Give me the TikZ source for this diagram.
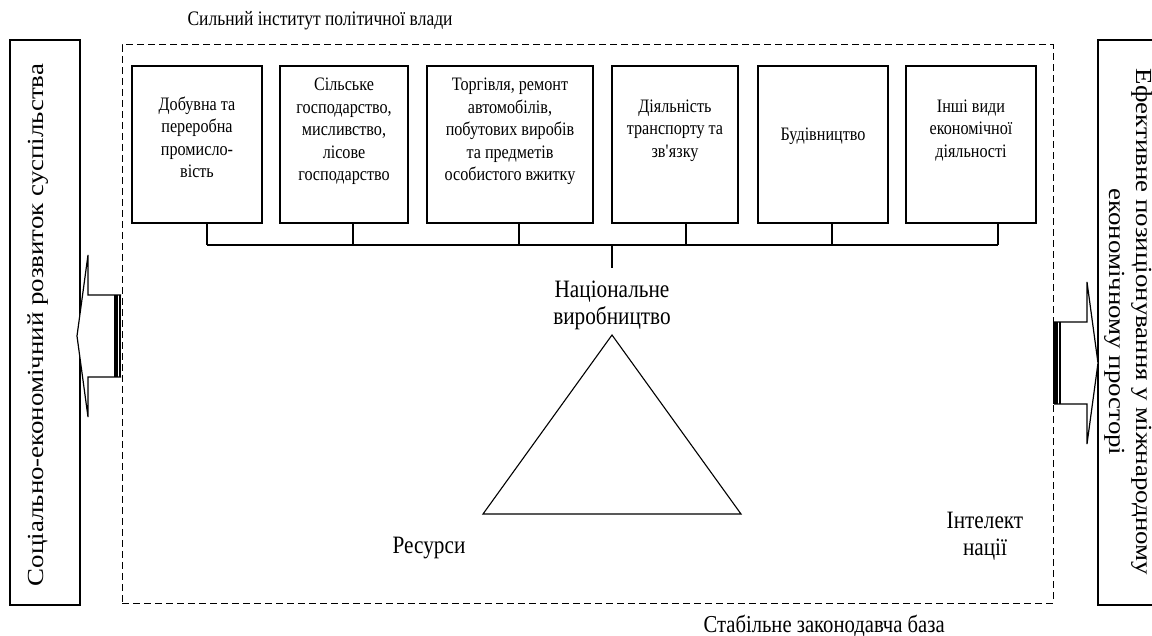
\documentclass[tikz,border=0pt]{standalone}
\usepackage{fontspec}
\setmainfont{Liberation Serif}[FakeStretch=0.85]
\newfontfamily\rotfont{Liberation Serif}[FakeStretch=1.17]
\usetikzlibrary{calc}
\begin{document}
\begin{tikzpicture}[x=1pt,y=-1pt,line width=1.1pt,
  sbox/.style={draw,line width=1.2pt,minimum width=#1,minimum height=157pt,inner sep=0pt},
  stext/.style={align=center,inner sep=0pt,font=\fontsize{19}{22.5}\selectfont},
  bigtext/.style={align=center,inner sep=0pt,font=\fontsize{25}{27}\selectfont},
  captext/.style={inner sep=0pt,anchor=west,font=\fontsize{#1}{24}\selectfont},
  sidebox/.style={draw,line width=1.2pt,minimum width=#1,minimum height=565pt,inner sep=0pt},
  rottext/.style={align=center,inner sep=0pt,font=\rotfont\fontsize{23}{27}\selectfont},
  dframe/.style={draw,dash pattern=on 7pt off 4pt,line width=1pt},
  arrowbody/.style={draw,line width=1.2pt,line join=miter,fill=white}]
\useasboundingbox (0,0) rectangle (1152,636);

% outer dashed frame
\node[dframe,minimum width=931pt,minimum height=558pt,inner sep=0pt] (fr) at (587.5,324) {};
\node[captext=20.6] (title) at (187,21) {Сильний інститут політичної влади};
\node[captext=24.3] (base) at (703,626) {Стабільне законодавча база};

% side boxes
\node[sidebox=70pt] (lbox) at (45,322.5) {};
\node[rottext,rotate=90] (ltext) at (38,325) {Соціально-економічний розвиток суспільства};
\node[sidebox=70pt] (rbox) at (1133,322.5) {};
\node[rottext,rotate=-90] (rtext) at (1128,322) {Ефективне позиціонування у міжнародному\\економічному просторі};

% top boxes
\node[sbox=130pt] (b1) at (197,144.5) {};
\node[sbox=128pt] (b2) at (344,144.5) {};
\node[sbox=166pt] (b3) at (510,144.5) {};
\node[sbox=126pt] (b4) at (675,144.5) {};
\node[sbox=130pt] (b5) at (823,144.5) {};
\node[sbox=130pt] (b6) at (971,144.5) {};
\node[stext] (t1) at ($(b1.center)+(0,-7)$) {Добувна та\\переробна\\промисло-\\вість};
\node[stext] (t2) at ($(b2.center)+(0,-13)$) {Сільське\\господарство,\\мисливство,\\лісове\\господарство};
\node[stext] (t3) at ($(b3.center)+(0,-13)$) {Торгівля, ремонт\\автомобілів,\\побутових виробів\\та предметів\\особистого вжитку};
\node[stext] (t4) at ($(b4.center)+(0,-14)$) {Діяльність\\транспорту та\\зв\textquotesingle язку};
\node[stext] (t5) at ($(b5.center)+(0,-8)$) {Будівництво};
\node[stext] (t6) at ($(b6.center)+(0,-14)$) {Інші види\\економічної\\діяльності};

% bus
\coordinate (c1) at (207,245);
\coordinate (c2) at (353,245);
\coordinate (c3) at (519,245);
\coordinate (c4) at (686,245);
\coordinate (c5) at (832,245);
\coordinate (c6) at (998,245);
\coordinate (c0) at (612,245);
\coordinate (c0e) at (612,268);
\foreach \i in {1,...,6} \draw (b\i.south -| c\i) -- (c\i);
\draw (c1) -- (c6);
\draw (c0) -- (c0e);

% national production
\node[bigtext] (np) at (612,305) {Національне\\виробництво};
\coordinate (apex) at (612,335);
\coordinate (tl) at (483,514);
\coordinate (tr) at (741,514);
\draw[line join=miter] (apex) -- (tl) -- (tr) -- cycle;
\node[bigtext] (res) at (429,548) {Ресурси};
\node[bigtext] (int) at (985,536) {Інтелект\\нації};

% left striped arrow
\path[arrowbody] (121,295) -- (88,295) -- (88,255) -- (77,336) -- (88,417) -- (88,377) -- (121,377);
\fill (114.3,295) rectangle (117.5,377);
\fill (118.6,295) rectangle (121,377);
% right striped arrow
\path[arrowbody] (1054,322) -- (1087,322) -- (1087,282) -- (1098,363) -- (1087,444) -- (1087,404) -- (1054,404);
\fill (1053,322) rectangle (1058,404);
\fill (1059.3,322) rectangle (1061,404);
\end{tikzpicture}
\end{document}
